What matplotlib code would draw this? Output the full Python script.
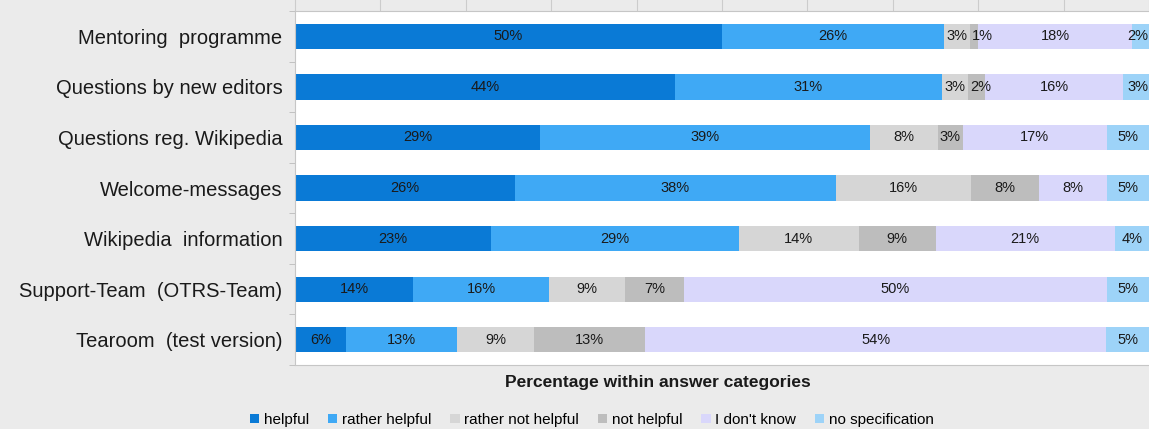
import numpy as np
import matplotlib.pyplot as plt
from matplotlib.patches import Patch

plt.rcParams["font.family"] = ["Liberation Sans", "DejaVu Sans"]

# Survey data (percent per answer category, as labelled)
categories = [
    "Mentoring  programme",
    "Questions by new editors",
    "Questions reg. Wikipedia",
    "Welcome-messages",
    "Wikipedia  information",
    "Support-Team  (OTRS-Team)",
    "Tearoom  (test version)",
]
answers = ["helpful", "rather helpful", "rather not helpful",
           "not helpful", "I don't know", "no specification"]

helpful = [50, 44, 29, 26, 23, 14, 6]
rather_helpful = [26, 31, 39, 38, 29, 16, 13]
rather_not_helpful = [3, 3, 8, 16, 14, 9, 9]
not_helpful = [1, 2, 3, 8, 9, 7, 13]
dont_know = [18, 16, 17, 8, 21, 50, 54]
no_spec = [2, 3, 5, 5, 4, 5, 5]

colors = ["#0a7ad6", "#3fa9f5", "#d6d6d6", "#bdbdbd", "#d9d7fb", "#9dd3f8"]

series = np.array([helpful, rather_helpful, rather_not_helpful,
                   not_helpful, dont_know, no_spec], dtype=float)
# rounded labels don't always sum to 100, bars are shares of the full row
widths = series / series.sum(axis=0) * 100

fig = plt.figure(figsize=(11.49, 4.29), dpi=100, facecolor="#ebebeb")
ax = fig.add_axes([295 / 1149, 1 - 365 / 429, 1 - 295 / 1149, 354 / 429])
ax.set_facecolor("white")

y = np.arange(len(categories))
left = np.zeros(len(categories))
n_series = len(series)
for k, (vals, w, col) in enumerate(zip(series, widths, colors)):
    ax.barh(y, w, left=left, height=0.5, color=col, linewidth=0)
    for yi in range(len(categories)):
        lab = f"{int(vals[yi])}%"
        if vals[yi] <= 3 and k == n_series - 1:
            # last narrow segment: keep label inside the right edge
            ax.text(left[yi] + w[yi] - 0.1, yi, lab, ha="right", va="center",
                    fontsize=10.5, color="#1a1a1a")
        elif vals[yi] <= 3:
            # narrow segment: start label at segment edge
            ax.text(left[yi] + 0.25, yi, lab, ha="left", va="center",
                    fontsize=10.5, color="#1a1a1a")
        else:
            ax.text(left[yi] + w[yi] / 2, yi, lab, ha="center",
                    va="center", fontsize=10.5, color="#1a1a1a")
    left += w

ax.set_xlim(0, 100)
ax.set_ylim(6.5, -0.5)

ax.set_yticks(y)
ax.set_yticklabels(categories, fontsize=14.5, color="#1a1a1a")
ax.tick_params(axis="y", which="major", length=0, pad=9)
ax.set_yticks(np.arange(-0.5, 7, 1), minor=True)
ax.tick_params(axis="y", which="minor", length=4.5, color="#bbbbbb", direction="out")

ax.xaxis.tick_top()
ax.set_xticks(np.arange(0, 101, 10))
ax.set_xticklabels([])
ax.tick_params(axis="x", length=14, color="#cccccc", direction="out")

for s in ax.spines.values():
    s.set_color("#c6c6c6")
ax.spines["right"].set_visible(False)

fig.text(658 / 1149, 1 - 382 / 429, "Percentage within answer categories",
         ha="center", va="center", fontsize=12.5, fontweight="bold", color="#1a1a1a")

handles = [Patch(facecolor=c, edgecolor="none", label=a) for a, c in zip(answers, colors)]
fig.legend(handles=handles, loc="center", bbox_to_anchor=(592 / 1149, 1 - 420 / 429),
           ncol=6, frameon=False, fontsize=11, handlelength=0.6, handleheight=0.6,
           handletextpad=0.3, columnspacing=1.25, borderaxespad=0)

fig.savefig("out.png", dpi=100, facecolor=fig.get_facecolor())
